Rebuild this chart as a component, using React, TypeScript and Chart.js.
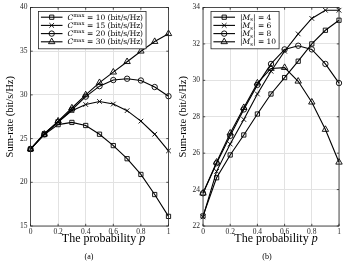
import React, { useEffect, useRef } from "react";
import { Chart, registerables } from "chart.js";
import { drawPoint } from "chart.js/helpers";

Chart.register(...registerables);

// ---------- data ----------
const pValues = [0, 0.1, 0.2, 0.3, 0.4, 0.5, 0.6, 0.7, 0.8, 0.9, 1];
const xTickLabels = ["0", "0.2", "0.4", "0.6", "0.8", "1"];

// (a) different C^max
const cmaxValues = [10, 15, 20, 30];
const rateCmax10 = [23.8, 25.45, 26.6, 26.85, 26.5, 25.5, 24.2, 22.7, 20.9, 18.6, 16.1];
const rateCmax15 = [23.8, 25.6, 26.9, 28.2, 28.9, 29.25, 28.95, 28.2, 27.0, 25.5, 23.6];
const rateCmax20 = [23.8, 25.5, 26.9, 28.3, 29.8, 31.0, 31.7, 31.85, 31.65, 30.9, 29.85];
const rateCmax30 = [23.8, 25.5, 27.0, 28.5, 30.0, 31.4, 32.6, 33.8, 35.0, 36.1, 37.0];
const yTicksA = [15, 20, 25, 30, 35, 40];

// (b) different |M_s|
const setSizes = [4, 6, 8, 10];
const rateMs4 = [22.55, 24.65, 25.9, 27.0, 28.15, 29.25, 30.15, 31.05, 32.0, 32.75, 33.3];
const rateMs6 = [22.5, 25.0, 26.5, 27.85, 29.25, 30.5, 31.6, 32.55, 33.4, 33.85, 33.85];
const rateMs8 = [23.8, 25.45, 26.95, 28.4, 29.75, 30.9, 31.7, 31.9, 31.7, 30.9, 29.85];
const rateMs10 = [23.8, 25.5, 27.1, 28.5, 29.85, 30.65, 30.7, 29.95, 28.8, 27.3, 25.5];
const yTicksB = [22, 24, 26, 28, 30, 32, 34];

const markerStyles = ["rect", "crossRot", "circle", "triangle"];
const markerRadii = [3, 3.3, 2.7, 3.7];

const SERIF = '"Liberation Serif", "DejaVu Serif", serif';
const LEGEND_SERIF = '"DejaVu Serif", "Liberation Serif", serif';

type Part = { text: string; kind: "n" | "i" | "sup" | "sub" };

type PanelCfg = {
  series: number[][];
  legend: Part[][];
  yTicks: number[];
  padLeft: number;
  padRight: number;
  yWidth: number;
  captionX: number;
  caption: string;
  titleShift: number;
};

function partFont(kind: string, size: number) {
  const s = kind === "sup" || kind === "sub" ? size * 0.72 : size;
  const style = kind === "i" ? "italic " : "";
  return `${style}${s}px ${LEGEND_SERIF}`;
}

function partsWidth(ctx: CanvasRenderingContext2D, parts: Part[], size: number) {
  let w = 0;
  for (const p of parts) {
    ctx.font = partFont(p.kind, size);
    w += ctx.measureText(p.text).width;
  }
  return w;
}

function drawParts(ctx: CanvasRenderingContext2D, parts: Part[], x: number, y: number, size: number) {
  ctx.textBaseline = "alphabetic";
  ctx.textAlign = "left";
  for (const p of parts) {
    ctx.font = partFont(p.kind, size);
    const dy = p.kind === "sup" ? -size * 0.38 : p.kind === "sub" ? size * 0.22 : 0;
    ctx.fillText(p.text, x, y + dy);
    x += ctx.measureText(p.text).width;
  }
  return x;
}

function makePlugin(cfg: PanelCfg) {
  return {
    id: "matlabFrame",
    afterDraw(chart: any) {
      const ctx: CanvasRenderingContext2D = chart.ctx;
      const { left, right, top, bottom } = chart.chartArea;
      const xs = chart.scales.x;
      const ys = chart.scales.y;
      ctx.save();
      // frame
      ctx.strokeStyle = "#262626";
      ctx.lineWidth = 0.8;
      ctx.strokeRect(left, top, right - left, bottom - top);
      // inward ticks
      const tl = 2.2;
      ctx.beginPath();
      for (const t of xs.ticks) {
        const px = xs.getPixelForValue(t.value);
        ctx.moveTo(px, bottom);
        ctx.lineTo(px, bottom - tl);
        ctx.moveTo(px, top);
        ctx.lineTo(px, top + tl);
      }
      for (const t of ys.ticks) {
        const py = ys.getPixelForValue(t.value);
        ctx.moveTo(left, py);
        ctx.lineTo(left + tl, py);
        ctx.moveTo(right, py);
        ctx.lineTo(right - tl, py);
      }
      ctx.stroke();

      // legend
      const fs = 7.5;
      const rowH = 8.2;
      let maxW = 0;
      for (const parts of cfg.legend) maxW = Math.max(maxW, partsWidth(ctx, parts, fs));
      const bx = left + 8;
      const by = top + 4;
      const bw = 29 + maxW + 3;
      const bh = 5.7 + rowH * (cfg.legend.length - 1) + 7;
      ctx.fillStyle = "#ffffff";
      ctx.fillRect(bx, by, bw, bh);
      ctx.strokeStyle = "#262626";
      ctx.lineWidth = 0.8;
      ctx.strokeRect(bx, by, bw, bh);
      cfg.legend.forEach((parts, i) => {
        const cy = by + 5.7 + i * rowH;
        ctx.strokeStyle = "#000";
        ctx.lineWidth = 1.1;
        ctx.beginPath();
        ctx.moveTo(bx + 2.4, cy);
        ctx.lineTo(bx + 24, cy);
        ctx.stroke();
        ctx.fillStyle = "rgba(0,0,0,0)";
        ctx.strokeStyle = "#000";
        ctx.lineWidth = 0.9;
        drawPoint(ctx, { pointStyle: markerStyles[i], radius: markerRadii[i], rotation: 0, borderWidth: 0.9 } as any, bx + 13.2, cy);
        ctx.fillStyle = "#000";
        drawParts(ctx, parts, bx + 29, cy + fs * 0.35, fs);
      });

      // x title
      const xFs = 12;
      const cx = (left + right) / 2 + cfg.titleShift;
      const t1 = "The probability ";
      const t2 = "p";
      ctx.font = `${xFs}px ${SERIF}`;
      const w1 = ctx.measureText(t1).width;
      ctx.font = `italic ${xFs}px ${SERIF}`;
      const w2 = ctx.measureText(t2).width;
      const x0 = cx - (w1 + w2) / 2;
      ctx.fillStyle = "#000";
      ctx.textBaseline = "middle";
      ctx.textAlign = "left";
      ctx.font = `${xFs}px ${SERIF}`;
      ctx.fillText(t1, x0, 239);
      ctx.font = `italic ${xFs}px ${SERIF}`;
      ctx.fillText(t2, x0 + w1, 239);

      // caption
      ctx.font = `8px ${SERIF}`;
      ctx.textAlign = "center";
      ctx.fillText(cfg.caption, cfg.captionX, 257);
      ctx.restore();
    },
  };
}

function buildChart(canvas: HTMLCanvasElement, cfg: PanelCfg) {
  const xTicks = xTickLabels.map(Number);
  const tickFont = { family: SERIF, size: 7.5 };
  return new Chart(canvas, {
    type: "line",
    data: {
      datasets: cfg.series.map((vals, i) => ({
        label: `s${i}`,
        data: pValues.map((p, j) => ({ x: p, y: vals[j] })),
        borderColor: "#000",
        borderWidth: 1.1,
        backgroundColor: "rgba(0,0,0,0)",
        pointStyle: markerStyles[i] as any,
        pointRadius: markerRadii[i],
        pointBorderWidth: 0.9,
        pointBorderColor: "#000",
        pointBackgroundColor: "rgba(0,0,0,0)",
        tension: 0,
        fill: false,
        clip: false as any,
      })),
    },
    options: {
      animation: false,
      responsive: false,
      maintainAspectRatio: false,
      events: [],
      layout: { padding: { left: cfg.padLeft, right: cfg.padRight, top: 6, bottom: 16 } },
      plugins: { legend: { display: false }, tooltip: { enabled: false } },
      scales: {
        x: {
          type: "linear",
          min: xTicks[0],
          max: xTicks[xTicks.length - 1],
          afterFit: (s: any) => {
            s.height = 20;
          },
          afterBuildTicks: (s: any) => {
            s.ticks = xTicks.map((v) => ({ value: v }));
          },
          ticks: {
            callback: (_v: any, i: number) => xTickLabels[i],
            font: tickFont,
            color: "#262626",
            padding: 2,
            maxRotation: 0,
            autoSkip: false,
          },
          grid: { color: "#e2e2e2", lineWidth: 1, drawTicks: false },
          border: { display: false },
        },
        y: {
          type: "linear",
          min: cfg.yTicks[0],
          max: cfg.yTicks[cfg.yTicks.length - 1],
          afterFit: (s: any) => {
            s.width = cfg.yWidth;
          },
          afterBuildTicks: (s: any) => {
            s.ticks = cfg.yTicks.map((v) => ({ value: v }));
          },
          title: {
            display: true,
            text: "Sum-rate (bit/s/Hz)",
            font: { family: SERIF, size: 10.5 },
            color: "#000",
            padding: 0,
          },
          ticks: {
            callback: (v: any) => String(v),
            font: tickFont,
            color: "#262626",
            padding: 3,
            autoSkip: false,
          },
          grid: { color: "#e2e2e2", lineWidth: 1, drawTicks: false },
          border: { display: false },
        },
      },
    } as any,
    plugins: [makePlugin(cfg)],
  });
}

const legendA: Part[][] = cmaxValues.map((c) => [
  { text: "C", kind: "i" },
  { text: "max", kind: "sup" },
  { text: ` = ${c} (bit/s/Hz)`, kind: "n" },
]);

const legendB: Part[][] = setSizes.map((m) => [
  { text: "|", kind: "n" },
  { text: "M", kind: "i" },
  { text: "s", kind: "sub" },
  { text: `| = ${m}`, kind: "n" },
]);

const cfgA: PanelCfg = {
  series: [rateCmax10, rateCmax15, rateCmax20, rateCmax30],
  legend: legendA,
  yTicks: yTicksA,
  padLeft: 3.7,
  padRight: 5.5,
  yWidth: 26.8,
  captionX: 89,
  caption: "(a)",
  titleShift: 4,
};

const cfgB: PanelCfg = {
  series: [rateMs4, rateMs6, rateMs8, rateMs10],
  legend: legendB,
  yTicks: yTicksB,
  padLeft: 3,
  padRight: 10,
  yWidth: 26,
  captionX: 93,
  caption: "(b)",
  titleShift: 5,
};

function Panel({ cfg, left, width }: { cfg: PanelCfg; left: number; width: number }) {
  const ref = useRef<HTMLCanvasElement | null>(null);
  useEffect(() => {
    if (!ref.current) return;
    const ch = buildChart(ref.current, cfg);
    return () => ch.destroy();
  }, [cfg]);
  return (
    <canvas
      ref={ref}
      width={width}
      height={262}
      style={{ position: "absolute", left, top: 0, width, height: 262 }}
    />
  );
}

export default function App() {
  return (
    <div style={{ position: "absolute", left: 0, top: 0, width: 349, height: 262, background: "#fff" }}>
      <Panel cfg={cfgA} left={0} width={174} />
      <Panel cfg={cfgB} left={174} width={175} />
    </div>
  );
}
